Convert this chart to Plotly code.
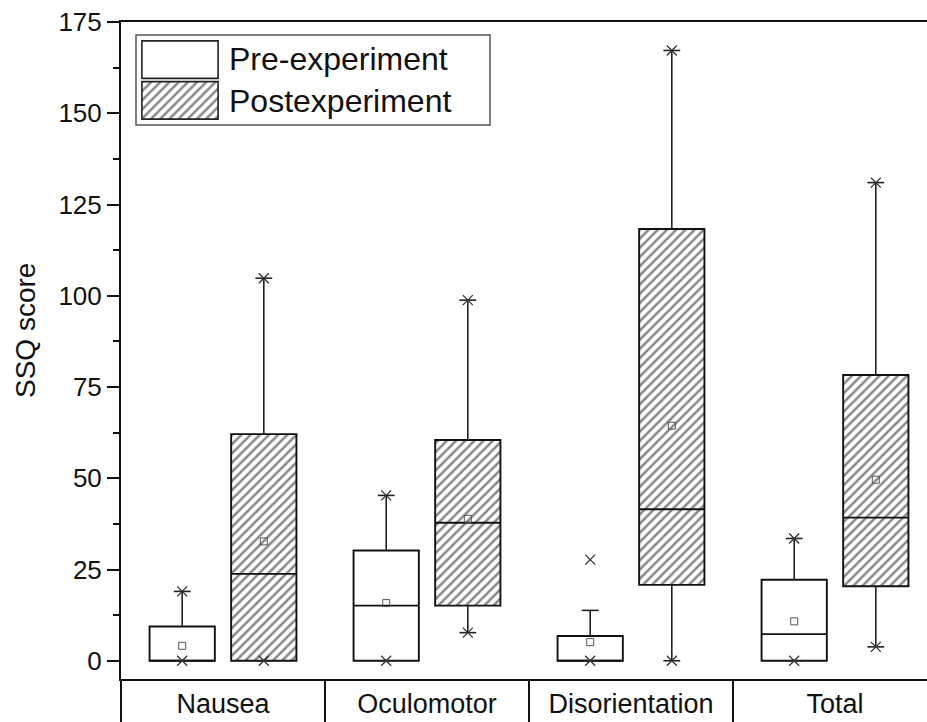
import plotly.graph_objects as go

# ---- data ----
categories = ["Nausea", "Oculomotor", "Disorientation", "Total"]

pre_q1 = [0, 0, 0, 0]
pre_median = [0, 15.1, 0, 7.3]
pre_q3 = [9.4, 30.2, 6.8, 22.2]
pre_mean = [4.1, 15.8, 5.1, 10.8]
pre_upper = [19.0, 45.3, 13.8, 33.5]
pre_lower = [0, 0, 0, 0]
pre_max = [19.0, 45.3, 27.7, 33.5]
pre_min = [0, 0, 0, 0]

post_q1 = [0, 15.1, 20.8, 20.4]
post_median = [23.8, 37.8, 41.5, 39.2]
post_q3 = [62.1, 60.5, 118.3, 78.3]
post_mean = [32.7, 38.9, 64.4, 49.6]
post_upper = [104.8, 98.8, 167.2, 131.0]
post_lower = [0, 7.7, 0, 3.8]
post_max = [104.8, 98.8, 167.2, 131.0]
post_min = [0, 7.7, 0, 3.8]

y_ticks = [0, 25, 50, 75, 100, 125, 150, 175]
legend_labels = ["Pre-experiment", "Postexperiment"]

FONT = "Arial, Liberation Sans, sans-serif"
OFFSET = 0.2
BOX_W = 0.32
HATCH = dict(shape="/", fgcolor="#111", bgcolor="white", size=6.5, solidity=0.38)

fig = go.Figure()


def add_group(off, q1, med, q3, mean, upper, lower, mx, mn, hatched):
    xpos = [i + off for i in range(len(categories))]
    # whiskers (drawn first so boxes sit on top)
    wx, wy = [], []
    for i, x in enumerate(xpos):
        wx += [x, x, None, x, x, None]
        wy += [q3[i], upper[i], None, q1[i], lower[i], None]
    fig.add_trace(go.Scatter(x=wx, y=wy, mode="lines",
                             line=dict(color="#222", width=1.6),
                             showlegend=False, hoverinfo="skip"))
    # boxes
    marker = dict(color="white", line=dict(color="#111", width=1.9))
    if hatched:
        marker["pattern"] = HATCH
    fig.add_trace(go.Bar(x=xpos, y=[b - a for a, b in zip(q1, q3)], base=q1,
                         width=BOX_W, marker=marker, showlegend=False))
    # medians
    mxs, mys = [], []
    for i, x in enumerate(xpos):
        mxs += [x - BOX_W / 2, x + BOX_W / 2, None]
        mys += [med[i], med[i], None]
    fig.add_trace(go.Scatter(x=mxs, y=mys, mode="lines",
                             line=dict(color="#111", width=1.9),
                             showlegend=False, hoverinfo="skip"))
    # whisker caps
    fig.add_trace(go.Scatter(x=xpos + xpos, y=upper + lower, mode="markers",
                             marker=dict(symbol="line-ew", size=12,
                                         line=dict(color="#222", width=1.6)),
                             showlegend=False, hoverinfo="skip"))
    # max / min markers
    fig.add_trace(go.Scatter(x=xpos + xpos, y=mx + mn, mode="markers",
                             marker=dict(symbol="x-thin", size=10,
                                         line=dict(color="#333", width=1.3)),
                             showlegend=False, hoverinfo="skip"))
    # means
    fig.add_trace(go.Scatter(x=xpos, y=mean, mode="markers",
                             marker=dict(symbol="square-open", size=7, color="#555",
                                         line=dict(width=1)),
                             showlegend=False, hoverinfo="skip"))


add_group(-OFFSET, pre_q1, pre_median, pre_q3, pre_mean, pre_upper, pre_lower,
          pre_max, pre_min, False)
add_group(OFFSET, post_q1, post_median, post_q3, post_mean, post_upper, post_lower,
          post_max, post_min, True)

# ---- custom legend: symbols drawn as bars on an inset axis ----
fig.add_trace(go.Bar(x=[1], y=[1], base=0, orientation="h", width=0.92,
                     marker=dict(color="white", line=dict(color="#222", width=1.6)),
                     xaxis="x2", yaxis="y2", showlegend=False, hoverinfo="skip"))
fig.add_trace(go.Bar(x=[1], y=[0], base=0, orientation="h", width=0.92,
                     marker=dict(color="white", line=dict(color="#222", width=1.6),
                                 pattern=HATCH),
                     xaxis="x2", yaxis="y2", showlegend=False, hoverinfo="skip"))

PW, PH, L, T = 806.0, 657.0, 121.0, 22.0


def px(xp):
    return (xp - L) / PW


def py(yp):
    return (T + PH - yp) / PH


fig.add_shape(type="rect", xref="paper", yref="paper",
              x0=px(136), x1=px(490), y0=py(125), y1=py(35),
              line=dict(color="#555", width=1.5), fillcolor="rgba(0,0,0,0)", layer="below")
for lab, yc in zip(legend_labels, [59, 101]):
    fig.add_annotation(text=lab, xref="paper", yref="paper", x=px(227), y=py(yc),
                       xanchor="left", yanchor="middle", showarrow=False,
                       font=dict(family=FONT, size=32, color="#111"))

# y-axis title
fig.add_annotation(text="SSQ score", xref="paper", yref="paper", x=px(25), y=py(331),
                   xanchor="center", yanchor="middle", textangle=-90, showarrow=False,
                   font=dict(family=FONT, size=28, color="#111"))

fig.update_layout(
    width=927, height=722,
    margin=dict(l=121, r=0, t=22, b=43, autoexpand=False),
    plot_bgcolor="white", paper_bgcolor="white",
    showlegend=False, barmode="overlay",
    font=dict(family=FONT, color="#111"),
    xaxis=dict(range=[-0.5, -0.5 + PW / 204.0], tickmode="array",
               tickvals=list(range(len(categories))), ticktext=categories,
               ticks="", showgrid=False, zeroline=False,
               showline=True, linecolor="#111", linewidth=2, mirror=True,
               tickfont=dict(family=FONT, size=27, color="#111"),
               ticklabelstandoff=0,
               minor=dict(tickmode="linear", tick0=-0.5, dtick=1, ticks="outside",
                          ticklen=43, tickwidth=2, tickcolor="#111", showgrid=False)),
    yaxis=dict(range=[-5, 175], tickmode="array", tickvals=y_ticks,
               ticks="outside", ticklen=12, tickwidth=2, tickcolor="#111",
               showgrid=False, zeroline=False,
               showline=True, linecolor="#111", linewidth=2,
               tickfont=dict(family=FONT, size=26, color="#111"),
               minor=dict(tickmode="linear", tick0=0, dtick=12.5, ticks="outside",
                          ticklen=6, tickwidth=2, tickcolor="#111", showgrid=False)),
    xaxis2=dict(domain=[px(140), px(220)], range=[-0.025, 1.025], anchor="y2",
                visible=False, fixedrange=True),
    yaxis2=dict(domain=[py(122), py(38)], range=[-0.53, 1.53], anchor="x2",
                visible=False, fixedrange=True),
)

fig.write_html("out.html")
